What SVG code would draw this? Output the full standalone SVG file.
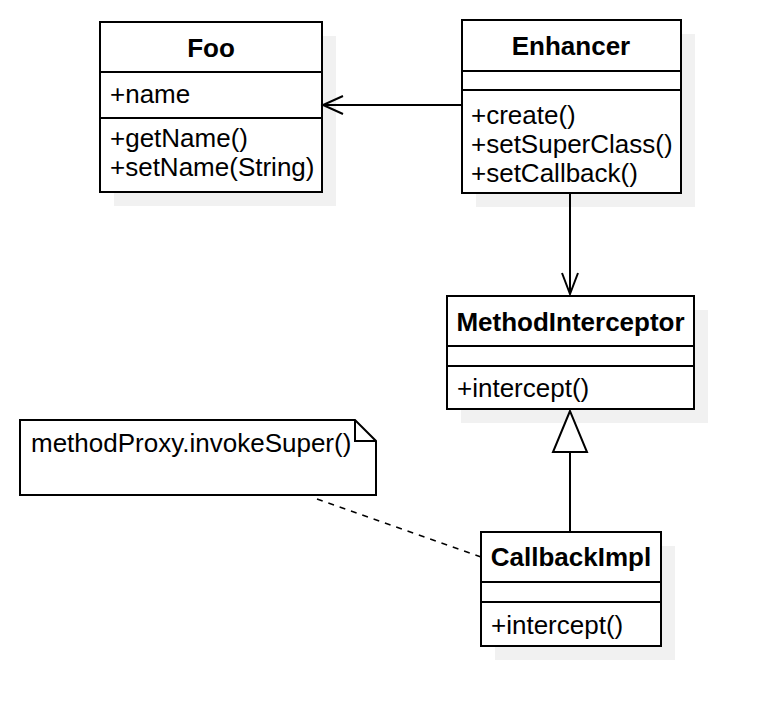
<svg xmlns="http://www.w3.org/2000/svg" width="774" height="726" viewBox="0 0 774 726">
<style>
.box{fill:#ffffff;stroke:#000000;stroke-width:2}
.shadow{fill:#f1f1f1;stroke:none}
.sep{stroke:#000000;stroke-width:2;fill:none}
.t{font-family:"Liberation Sans",Arial,Helvetica,sans-serif;font-size:26px;fill:#000000}
.b{font-weight:bold;text-anchor:middle}
.line{stroke:#000000;stroke-width:2;fill:none}
.dash{stroke:#000000;stroke-width:1.5;fill:none;stroke-dasharray:6 6}
</style>
<rect width="774" height="726" fill="#ffffff"/>
<g id="Foo">
<rect class="shadow" x="114" y="36" width="222" height="170"/>
<rect class="box" x="100" y="22" width="222" height="170"/>
<line class="sep" x1="100" y1="72" x2="322" y2="72"/>
<line class="sep" x1="100" y1="118" x2="322" y2="118"/>
<text class="t b" x="211" y="57">Foo</text>
<text class="t" x="110" y="103">+name</text>
<text class="t" x="110" y="147">+getName()</text>
<text class="t" x="110" y="176">+setName(String)</text>
</g>
<g id="Enhancer">
<rect class="shadow" x="476" y="34" width="219" height="173"/>
<rect class="box" x="462" y="20" width="219" height="173"/>
<line class="sep" x1="462" y1="71" x2="681" y2="71"/>
<line class="sep" x1="462" y1="90" x2="681" y2="90"/>
<text class="t b" x="571" y="55">Enhancer</text>
<text class="t" x="471" y="124">+create()</text>
<text class="t" x="471" y="153">+setSuperClass()</text>
<text class="t" x="471" y="182">+setCallback()</text>
</g>
<g id="MethodInterceptor">
<rect class="shadow" x="461" y="310" width="247" height="113"/>
<rect class="box" x="447" y="296" width="247" height="113"/>
<line class="sep" x1="447" y1="346" x2="694" y2="346"/>
<line class="sep" x1="447" y1="366" x2="694" y2="366"/>
<text class="t b" x="570.5" y="330.5">MethodInterceptor</text>
<text class="t" x="457" y="397">+intercept()</text>
</g>
<g id="CallbackImpl">
<rect class="shadow" x="495" y="546" width="180" height="114"/>
<rect class="box" x="481" y="532" width="180" height="114"/>
<line class="sep" x1="481" y1="582" x2="661" y2="582"/>
<line class="sep" x1="481" y1="602" x2="661" y2="602"/>
<text class="t b" x="571" y="565.5">CallbackImpl</text>
<text class="t" x="491" y="634">+intercept()</text>
</g>
<g id="Note">
<path class="box" d="M20,420 H355 L376,441 V495 H20 Z"/>
<path class="sep" d="M355,420 V441 H376"/>
<text class="t" x="31" y="452">methodProxy.invokeSuper()</text>
</g>
<g id="connectors">
<line class="line" x1="462" y1="105" x2="323" y2="105"/>
<path class="line" d="M343,96 L323,105 L343,114"/>
<line class="line" x1="570" y1="193" x2="570" y2="294"/>
<path class="line" d="M562,273 L570,294 L578,273"/>
<line class="line" x1="570" y1="452" x2="570" y2="532"/>
<path class="box" d="M570,411 L553,452 L587,452 Z"/>
<line class="dash" x1="317" y1="499" x2="481" y2="557"/>
</g>
</svg>
